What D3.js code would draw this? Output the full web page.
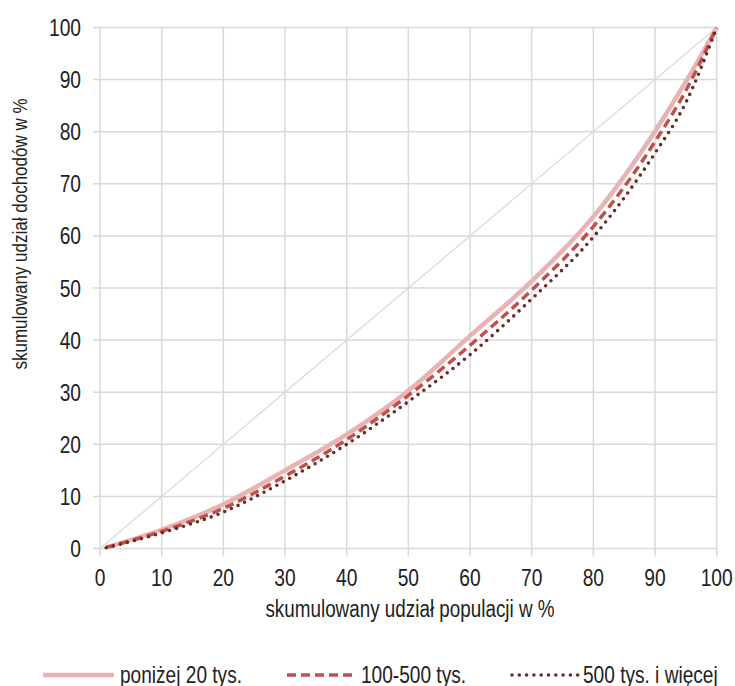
<!DOCTYPE html>
<html><head><meta charset="utf-8">
<script src="https://cdn.jsdelivr.net/npm/d3@7"></script>
<style>
body{margin:0;background:#fff;}
text{font-family:"Liberation Sans","Arial",sans-serif;fill:#222;}
</style></head>
<body><svg id="c" width="735" height="686"></svg>
<script>
const popShare = [1, 10, 20, 30, 40, 50, 60, 70, 80, 90, 95, 100];
const below20k = [0.2, 3.6, 8.5, 15.0, 21.9, 30.3, 40.8, 51.3, 63.7, 80.1, 89.6, 100];
const k100to500 = [0.2, 3.3, 7.7, 13.9, 20.9, 29.4, 39.0, 49.6, 61.8, 78.1, 87.9, 100];
const k500plus = [0.15, 3.0, 7.0, 13.0, 20.0, 28.2, 37.2, 47.9, 59.8, 75.9, 85.6, 100];
const ticks = [0, 10, 20, 30, 40, 50, 60, 70, 80, 90, 100];
const seriesNames = ["poniżej 20 tys.", "100-500 tys.", "500 tys. i więcej"];

const svg = d3.select("#c");
const x = d3.scaleLinear().domain([0, 100]).range([100, 716.7]);
const y = d3.scaleLinear().domain([0, 100]).range([548.5, 27.5]);
const grid = "#d9d9d9";

function ntext(g, tx, ty, rot, anchor, size, sx, str) {
  return g.append("text")
    .attr("transform", `translate(${tx},${ty})${rot ? ` rotate(${rot})` : ""} scale(${sx},1)`)
    .attr("text-anchor", anchor).style("font-size", size + "px").text(str);
}

// horizontal gridlines
svg.append("g").selectAll("line").data(ticks).join("line")
  .attr("x1", x(0) - 7).attr("x2", x(100))
  .attr("y1", d => y(d)).attr("y2", d => y(d))
  .attr("stroke", grid).attr("stroke-width", 1.5);
// vertical gridlines
svg.append("g").selectAll("line").data(ticks).join("line")
  .attr("y1", y(100)).attr("y2", y(0) + 8)
  .attr("x1", d => x(d)).attr("x2", d => x(d))
  .attr("stroke", grid).attr("stroke-width", 1.5);

// tick labels
const gy = svg.append("g"), gx = svg.append("g");
ticks.forEach(t => {
  ntext(gy, 81, y(t) + 8.5, 0, "end", 24, 0.8, t);
  ntext(gx, x(t), 586, 0, "middle", 24, 0.8, t);
});

// axis titles
ntext(svg, 410, 617, 0, "middle", 23, 0.82, "skumulowany udział populacji w %");
ntext(svg, 27, 234, -90, "middle", 21, 0.81, "skumulowany udział dochodów w %");

// equality diagonal
svg.append("line").attr("x1", x(0)).attr("y1", y(0)).attr("x2", x(100)).attr("y2", y(100))
  .attr("stroke", grid).attr("stroke-width", 1.2);

const styles = [
  {color: "#e8b3b3", width: 4.5, dash: null, cap: "butt"},
  {color: "#c0504d", width: 3.5, dash: "9,5", cap: "butt"},
  {color: "#6b2b2b", width: 3.6, dash: "0,7.3", cap: "round"}
];
const allSeries = [below20k, k100to500, k500plus];
const line = d3.line().x(d => x(d[0])).y(d => y(d[1])).curve(d3.curveMonotoneX);

allSeries.forEach((vals, i) => {
  const pts = popShare.map((p, j) => [p, vals[j]]);
  const s = styles[i];
  svg.append("path").datum(pts).attr("d", line)
    .attr("fill", "none").attr("stroke", s.color).attr("stroke-width", s.width)
    .attr("stroke-dasharray", s.dash).attr("stroke-linecap", s.cap);
});

// legend
const legX = [43, 287, 512], legW = [71, 69, 66], legTx = [120, 361, 583];
seriesNames.forEach((n, i) => {
  const s = styles[i];
  svg.append("line").attr("x1", legX[i]).attr("x2", legX[i] + legW[i])
    .attr("y1", 675).attr("y2", 675)
    .attr("stroke", s.color).attr("stroke-width", s.width)
    .attr("stroke-dasharray", s.dash).attr("stroke-linecap", s.cap);
  ntext(svg, legTx[i], 683, 0, "start", 23, 0.83, n);
});
</script></body></html>
